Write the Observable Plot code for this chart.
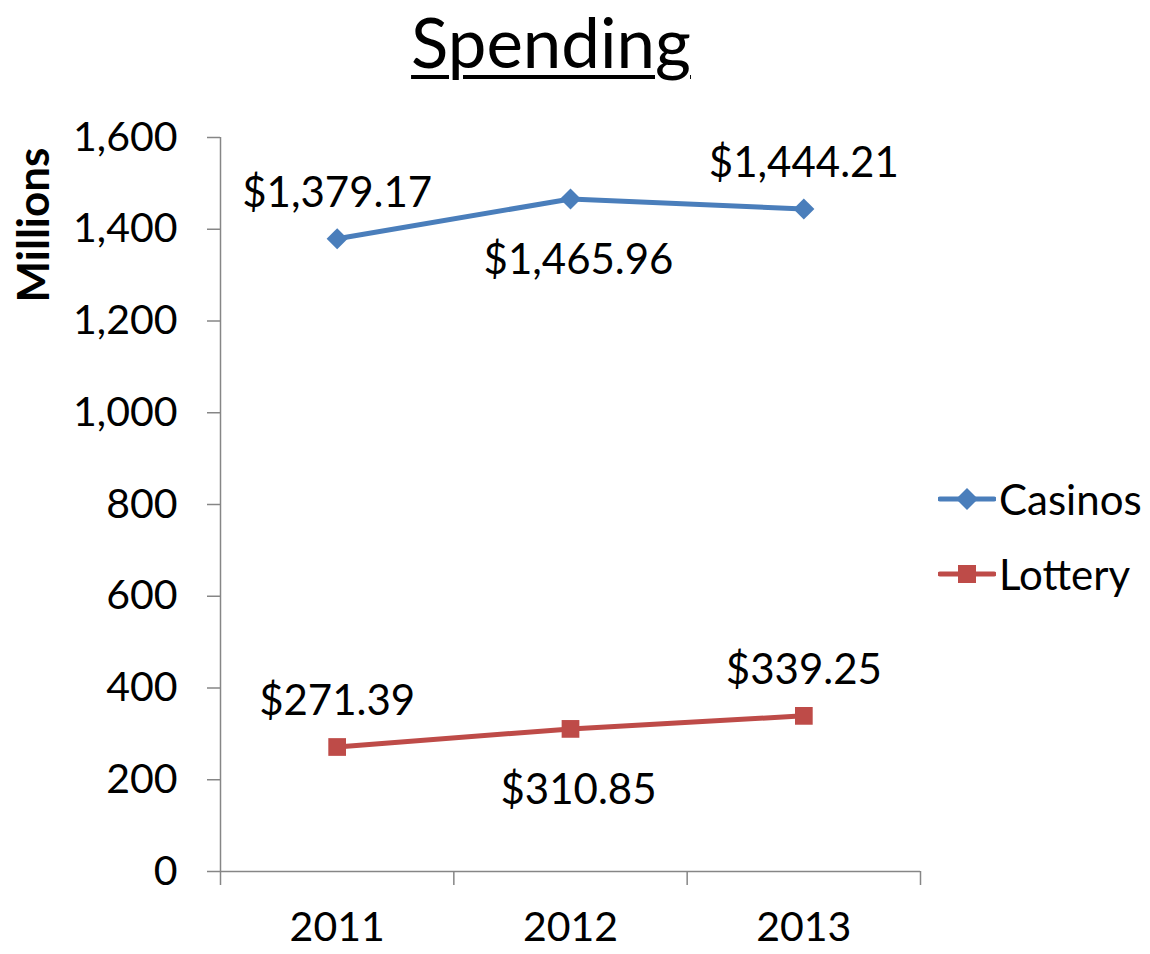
<!DOCTYPE html>
<html>
<head>
<meta charset="utf-8">
<script src="https://cdn.jsdelivr.net/npm/d3@7"></script>
<script src="https://cdn.jsdelivr.net/npm/@observablehq/plot@0.6"></script>
<style>
  body { margin: 0; background: #fff; font-family: Lato, "Open Sans", sans-serif; }
  #wrap { position: relative; width: 1150px; height: 954px; overflow: hidden; }
  #title { position: absolute; left: 0; top: 0; width: 1102px; text-align: center; z-index: 2;
           font-size: 69px; line-height: 84px; padding-bottom: 10px; text-decoration: underline; text-decoration-thickness: 4px;
           text-underline-offset: 7px; color: #000; }
  #ylabel { position: absolute; left: 32px; top: 225px; transform: translate(-50%, -50%) rotate(-90deg);
            font-size: 44px; line-height: 50px; font-weight: bold; white-space: nowrap; color: #000; z-index: 2; }
  #chart { position: absolute; left: 0; top: 90px; z-index: 1; }
  #legend { position: absolute; left: 938px; top: 461px; z-index: 2; }
  .item { display: flex; align-items: center; height: 75px; font-size: 42px; color: #000; }
  .item svg { margin-right: 3px; }
</style>
</head>
<body>
<div id="wrap">
  <div id="chart"></div>
  <div id="title">Spending</div>
  <div id="ylabel">Millions</div>
  <div id="legend"></div>
</div>
<script>
const years = [2011, 2012, 2013];
const series = ["Casinos", "Lottery"];
const casinos = [1379.17, 1465.96, 1444.21];
const lottery = [271.39, 310.85, 339.25];
const yTicks = [0, 200, 400, 600, 800, 1000, 1200, 1400, 1600];
const colors = ["#4A7EBB", "#BE4B48"];
const axisGray = "#868686";

const data = [];
years.forEach((yr, i) => {
  data.push({series: "Casinos", year: yr, value: casinos[i], idx: i});
  data.push({series: "Lottery", year: yr, value: lottery[i], idx: i});
});
const xMin = d3.min(years) - 0.5, xMax = d3.max(years) + 0.5;
const bounds = d3.range(xMin, xMax + 0.01, 1);
const fmt = v => "$" + d3.format(",.2f")(v);
const yFmt = d3.format(",");

const plot = Plot.plot({
  width: 1150,
  height: 864,
  marginTop: 47,
  marginBottom: 83,
  marginLeft: 220,
  marginRight: 230,
  style: {fontFamily: "Lato, 'Open Sans', sans-serif", background: "#fff", color: "#000"},
  x: {type: "linear", domain: [xMin, xMax]},
  y: {domain: [d3.min(yTicks), d3.max(yTicks)]},
  color: {domain: series, range: colors},
  marks: [
    Plot.axisY({ticks: yTicks, tickSize: 13, tickPadding: 30, tickFormat: d => yFmt(d), fontSize: 41, stroke: axisGray, strokeWidth: 1.5, label: null}),
    Plot.axisX({ticks: bounds, tickSize: 14, tickFormat: () => "", stroke: axisGray, strokeWidth: 1.5, label: null}),
    Plot.axisX({ticks: years, tickSize: 0, tickPadding: 40, tickFormat: d => String(d), fontSize: 41, label: null}),
    Plot.ruleY([d3.min(yTicks)], {stroke: axisGray, strokeWidth: 1.5}),
    Plot.ruleX([xMin], {stroke: axisGray, strokeWidth: 1.5}),
    Plot.line(data, {x: "year", y: "value", z: "series", stroke: "series", strokeWidth: 5}),
    Plot.dot(data.filter(d => d.series === "Casinos"), {x: "year", y: "value", symbol: () => "diamond2", r: 9.5, fill: "series", stroke: "none"}),
    Plot.dot(data.filter(d => d.series === "Lottery"), {x: "year", y: "value", symbol: () => "square", r: 10, fill: "series", stroke: "none"}),
    Plot.text(data.filter(d => d.idx !== 1), {x: "year", y: "value", text: d => fmt(d.value), dy: -45, fontSize: 42, fill: "#000"}),
    Plot.text(data.filter(d => d.idx === 1), {x: "year", y: "value", text: d => fmt(d.value), dy: 62, dx: 8, fontSize: 42, fill: "#000"})
  ]
});
document.getElementById("chart").appendChild(plot);

const legend = document.getElementById("legend");
series.forEach((s, i) => {
  const item = document.createElement("div");
  item.className = "item";
  const marker = i === 0
    ? `<path d="M29,-11 L40,0 L29,11 L18,0 Z" fill="${colors[i]}"/>`
    : `<rect x="20" y="-9" width="18" height="18" fill="${colors[i]}"/>`;
  item.innerHTML = `<svg width="58" height="30" viewBox="0 -15 58 30"><line x1="2" x2="56" y1="0" y2="0" stroke="${colors[i]}" stroke-width="5" stroke-linecap="round"/>${marker}</svg><span>${s}</span>`;
  legend.appendChild(item);
});
</script>
</body>
</html>
